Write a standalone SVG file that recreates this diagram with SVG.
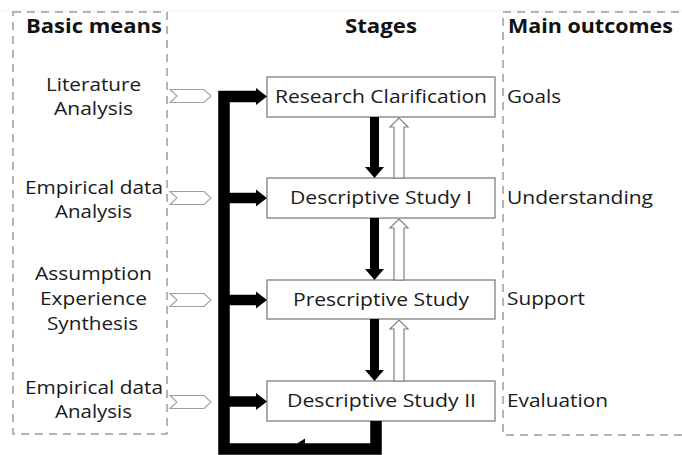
<svg xmlns="http://www.w3.org/2000/svg" width="682" height="455" viewBox="0 0 682 455">
<style>
text{font-family:"Open Sans","Noto Sans","Liberation Sans",sans-serif;font-size:19px;fill:#1a1a1a}
.h{font-weight:bold;fill:#111}
.m{text-anchor:middle}
.box{fill:#fff;stroke:#808080;stroke-width:1.3}
.dash{fill:none;stroke:#9a9a9a;stroke-width:1.5;stroke-dasharray:8 6}
.chev{fill:#fff;stroke:#a0a0a0;stroke-width:1.1}
.up{fill:#fff;stroke:#808080;stroke-width:1.2}
.blk{fill:#000}
</style>
<rect width="682" height="455" fill="#fff"/>
<line x1="0" y1="11" x2="682" y2="11" stroke="#eeeeee" stroke-width="1"/>
<g id="columns">
<rect class="dash" x="13" y="12" width="154" height="422"/>
<rect class="dash" x="503" y="12" width="200" height="423"/>
</g>
<g id="headers">
<text class="h m" x="94" y="33" textLength="136" lengthAdjust="spacingAndGlyphs">Basic means</text>
<text class="h m" x="381" y="33" textLength="72" lengthAdjust="spacingAndGlyphs">Stages</text>
<text class="h" x="508" y="33" textLength="165" lengthAdjust="spacingAndGlyphs">Main outcomes</text>
</g>
<g id="means">
<g id="mean1">
<text class="m" x="93.5" y="91" textLength="95" lengthAdjust="spacingAndGlyphs">Literature</text>
<text class="m" x="93.5" y="115" textLength="79" lengthAdjust="spacingAndGlyphs">Analysis</text>
</g>
<g id="mean2">
<text class="m" x="94" y="194" textLength="138" lengthAdjust="spacingAndGlyphs">Empirical data</text>
<text class="m" x="93.5" y="218" textLength="77" lengthAdjust="spacingAndGlyphs">Analysis</text>
</g>
<g id="mean3">
<text class="m" x="93.5" y="280" textLength="117" lengthAdjust="spacingAndGlyphs">Assumption</text>
<text class="m" x="93.5" y="305" textLength="107" lengthAdjust="spacingAndGlyphs">Experience</text>
<text class="m" x="92.5" y="330" textLength="91" lengthAdjust="spacingAndGlyphs">Synthesis</text>
</g>
<g id="mean4">
<text class="m" x="94" y="394" textLength="138" lengthAdjust="spacingAndGlyphs">Empirical data</text>
<text class="m" x="93.5" y="418" textLength="77" lengthAdjust="spacingAndGlyphs">Analysis</text>
</g>
</g>
<g id="stages">
<g id="stage1">
<rect class="box" x="267" y="77" width="228" height="40"/>
<text class="m" x="381" y="103" textLength="212" lengthAdjust="spacingAndGlyphs">Research Clarification</text>
</g>
<g id="stage2">
<rect class="box" x="267" y="178" width="228" height="40"/>
<text class="m" x="381" y="204" textLength="182" lengthAdjust="spacingAndGlyphs">Descriptive Study I</text>
</g>
<g id="stage3">
<rect class="box" x="267" y="280" width="228" height="39"/>
<text class="m" x="381" y="306" textLength="176" lengthAdjust="spacingAndGlyphs">Prescriptive Study</text>
</g>
<g id="stage4">
<rect class="box" x="267" y="381" width="228" height="40"/>
<text class="m" x="381.5" y="407" textLength="189" lengthAdjust="spacingAndGlyphs">Descriptive Study II</text>
</g>
</g>
<g id="outcomes">
<text id="out1" x="507" y="103" textLength="54" lengthAdjust="spacingAndGlyphs">Goals</text>
<text id="out2" x="507" y="204" textLength="146" lengthAdjust="spacingAndGlyphs">Understanding</text>
<text id="out3" x="507" y="305" textLength="78" lengthAdjust="spacingAndGlyphs">Support</text>
<text id="out4" x="507" y="407" textLength="101" lengthAdjust="spacingAndGlyphs">Evaluation</text>
</g>
<g id="connectors">
<polygon class="chev" points="170,89.5 204,89.5 211,96 204,102.5 170,102.5 177,96"/>
<polygon class="chev" points="170,191.5 204,191.5 211,198 204,204.5 170,204.5 177,198"/>
<polygon class="chev" points="170,293.5 204,293.5 211,300 204,306.5 170,306.5 177,300"/>
<polygon class="chev" points="170,395.5 204,395.5 211,402 204,408.5 170,408.5 177,402"/>
<polyline points="258,96.5 224,96.5 224,449 376,449 376,421" fill="none" stroke="#000" stroke-width="11.5" stroke-linejoin="miter"/>
<line x1="224" y1="198" x2="258" y2="198" stroke="#000" stroke-width="10.5"/>
<line x1="224" y1="300" x2="258" y2="300" stroke="#000" stroke-width="10.5"/>
<line x1="224" y1="401.5" x2="258" y2="401.5" stroke="#000" stroke-width="10.5"/>
<polygon class="blk" points="256,88 267,96.5 256,105"/>
<polygon class="blk" points="256,189.5 267,198 256,206.5"/>
<polygon class="blk" points="256,291.5 267,300 256,308.5"/>
<polygon class="blk" points="256,393 267,401.5 256,410"/>
<polygon class="blk" points="297,443.5 305,438.5 305,443.5"/>
<polygon class="blk" points="370,117 379,117 379,167 384,167 374.5,178 365,167 370,167"/>
<polygon class="blk" points="370,218 379,218 379,269 384,269 374.5,280 365,269 370,269"/>
<polygon class="blk" points="370,319 379,319 379,370 384,370 374.5,381 365,370 370,370"/>
<polygon class="up" points="394,178 404,178 404,127 408,127 399,118 390,127 394,127"/>
<polygon class="up" points="394,280 404,280 404,228 408,228 399,219 390,228 394,228"/>
<polygon class="up" points="394,381 404,381 404,329 408,329 399,320 390,329 394,329"/>
</g>
</svg>
